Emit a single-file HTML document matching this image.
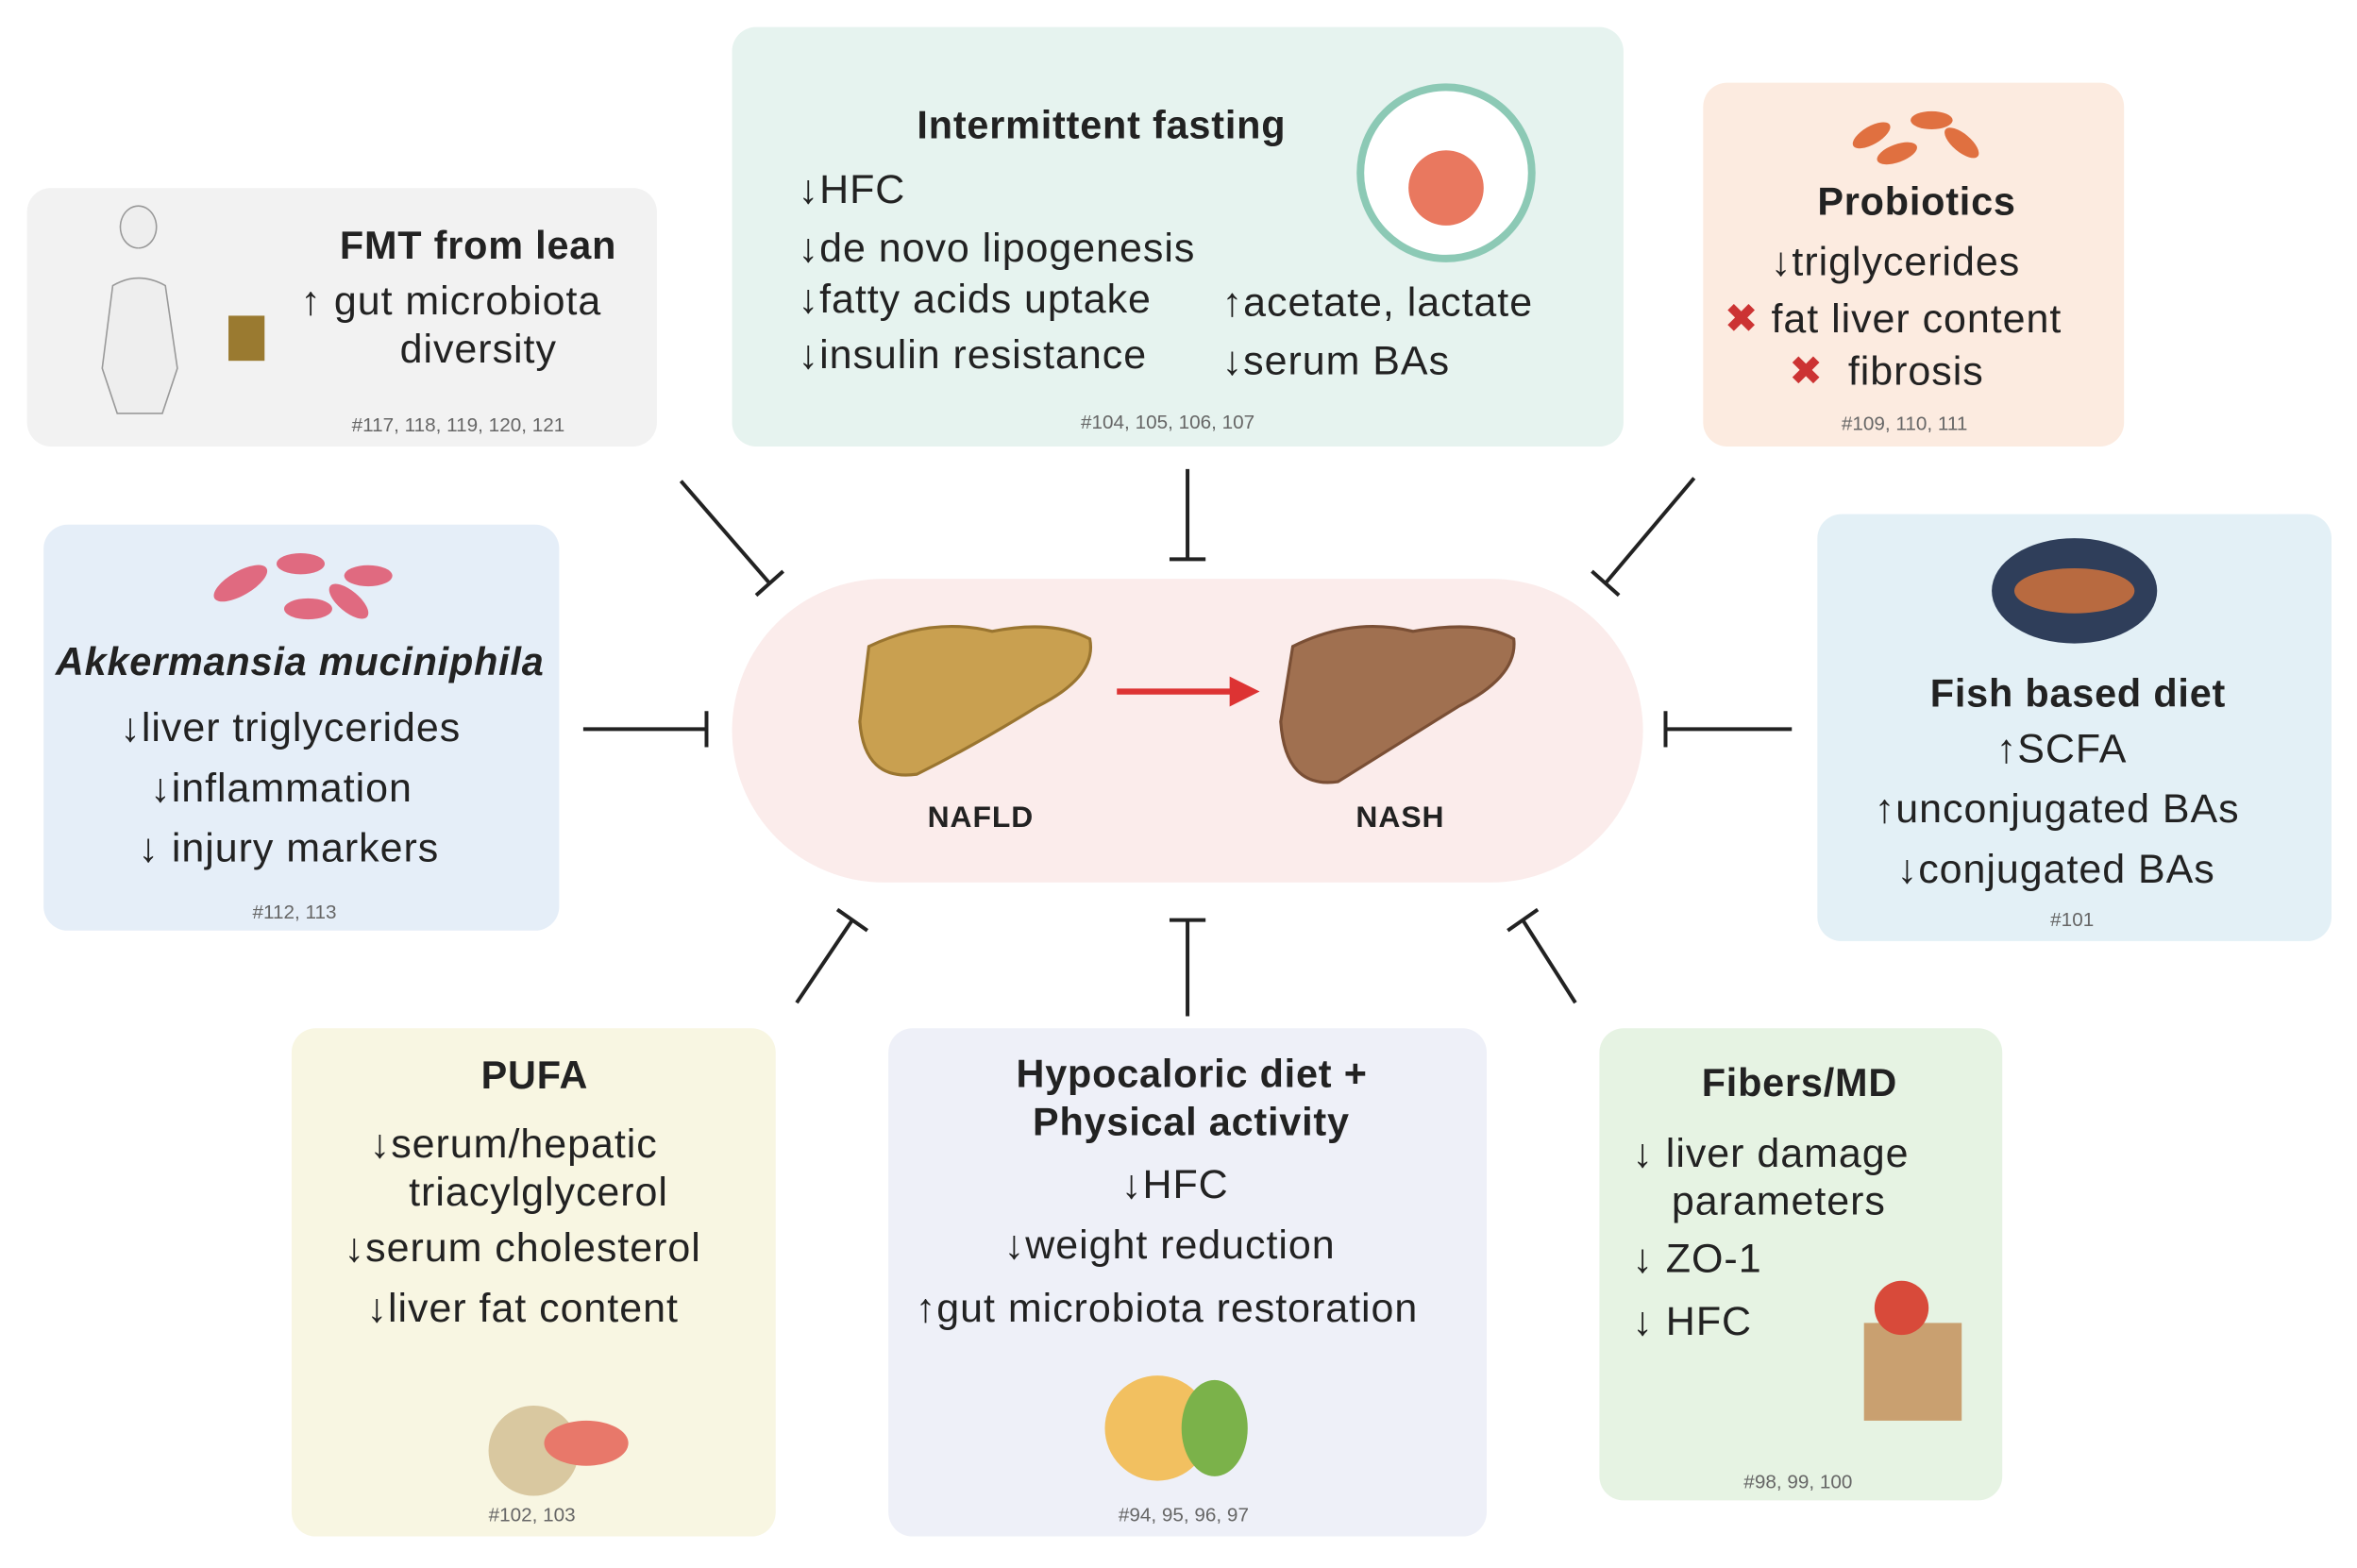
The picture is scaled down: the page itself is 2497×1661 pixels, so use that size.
<!DOCTYPE html>
<html><head><meta charset="utf-8"><style>
html,body{margin:0;padding:0;background:#fff;}
#wrap{width:2497px;height:1661px;overflow:hidden;position:relative;}
#s{position:absolute;left:0;top:0;width:1568px;height:1043px;transform:scale(1.5925);transform-origin:0 0;font-family:"Liberation Sans",sans-serif;color:#222;}
.b{position:absolute;border-radius:16px;}
.t{position:absolute;white-space:nowrap;font-size:27px;line-height:1;letter-spacing:0.6px;}
.h{font-weight:bold;font-size:26px;letter-spacing:0.5px;}
.r{font-size:13px;color:#666;letter-spacing:0;}
</style></head><body><div id="wrap"><div id="s">
<div class="b" style="left:18px;top:125px;width:419px;height:172px;background:#f2f2f2"></div>
<div class="b" style="left:487px;top:18px;width:593px;height:279px;background:#e6f3ef"></div>
<div class="b" style="left:1133px;top:55px;width:280px;height:242px;background:#fcebe0"></div>
<div class="b" style="left:29px;top:349px;width:343px;height:270px;background:#e5eef8"></div>
<div class="b" style="left:487px;top:385px;width:606px;height:202px;background:#fbeceb;border-radius:101px"></div>
<div class="b" style="left:1209px;top:342px;width:342px;height:284px;background:#e3f0f6"></div>
<div class="b" style="left:194px;top:684px;width:322px;height:338px;background:#f8f6e2"></div>
<div class="b" style="left:591px;top:684px;width:398px;height:338px;background:#eef0f8"></div>
<div class="b" style="left:1064px;top:684px;width:268px;height:314px;background:#e6f3e3"></div>

<svg width="1568" height="1043" style="position:absolute;left:0;top:0">
<g stroke="#222" stroke-width="2.5" fill="none">
<line x1="453" y1="320" x2="512" y2="388"/><line x1="503" y1="396" x2="521" y2="380"/>
<line x1="790" y1="312" x2="790" y2="372"/><line x1="778" y1="372" x2="802" y2="372"/>
<line x1="1127" y1="318" x2="1068" y2="388"/><line x1="1059" y1="380" x2="1077" y2="396"/>
<line x1="388" y1="485" x2="470" y2="485"/><line x1="470" y1="473" x2="470" y2="497"/>
<line x1="1192" y1="485" x2="1108" y2="485"/><line x1="1108" y1="473" x2="1108" y2="497"/>
<line x1="530" y1="667" x2="567" y2="612"/><line x1="557" y1="605" x2="577" y2="619"/>
<line x1="790" y1="676" x2="790" y2="612"/><line x1="778" y1="612" x2="802" y2="612"/>
<line x1="1048" y1="667" x2="1013" y2="612"/><line x1="1003" y1="619" x2="1023" y2="605"/>
</g>
<line x1="743" y1="460" x2="820" y2="460" stroke="#d33" stroke-width="4"/>
<polygon points="818,450 838,460 818,470" fill="#d33"/>
<path d="M578 430 Q620 410 660 420 Q700 412 725 425 Q730 450 690 470 Q650 495 610 515 Q575 520 572 480 Z" fill="#c9a050" stroke="#9a7530" stroke-width="2"/>
<path d="M860 430 Q900 410 940 420 Q985 412 1007 425 Q1010 450 970 470 Q930 495 890 520 Q855 525 852 480 Z" fill="#a07050" stroke="#7a4f35" stroke-width="2"/>
<circle cx="962" cy="115" r="57" fill="#fff" stroke="#8cc9b5" stroke-width="5"/>
<circle cx="962" cy="125" r="25" fill="#e9785f"/>
<ellipse cx="1380" cy="393" rx="55" ry="35" fill="#2f3e5a"/>
<ellipse cx="1380" cy="393" rx="40" ry="15" fill="#b86a40"/>
<g fill="#e07040"><ellipse cx="1245" cy="90" rx="14" ry="6" transform="rotate(-30 1245 90)"/><ellipse cx="1285" cy="80" rx="14" ry="6"/><ellipse cx="1305" cy="95" rx="14" ry="6" transform="rotate(40 1305 95)"/><ellipse cx="1262" cy="102" rx="14" ry="6" transform="rotate(-20 1262 102)"/></g>
<g fill="#e06a80"><ellipse cx="160" cy="388" rx="20" ry="8" transform="rotate(-30 160 388)"/><ellipse cx="200" cy="375" rx="16" ry="7"/><ellipse cx="245" cy="383" rx="16" ry="7"/><ellipse cx="205" cy="405" rx="16" ry="7"/><ellipse cx="232" cy="400" rx="16" ry="7" transform="rotate(40 232 400)"/></g>
<path d="M92 165 a12 14 0 1 1 0.1 0 M75 190 Q92 180 110 190 L118 245 L108 275 L78 275 L68 245 Z" fill="#eee" stroke="#999"/>
<rect x="152" y="210" width="24" height="30" fill="#9a7a30"/>
<circle cx="770" cy="950" r="35" fill="#f2c060"/><ellipse cx="808" cy="950" rx="22" ry="32" fill="#7bb24a"/>
<circle cx="355" cy="965" r="30" fill="#d9c8a0"/><ellipse cx="390" cy="960" rx="28" ry="15" fill="#e8786a"/>
<rect x="1240" y="880" width="65" height="65" fill="#c9a070"/><circle cx="1265" cy="870" r="18" fill="#d84a3a"/>
</svg>

<div class="t h" style="left:226px;top:150px">FMT from lean</div>
<div class="t" style="left:200px;top:187px">↑ gut microbiota</div>
<div class="t" style="left:266px;top:219px">diversity</div>
<div class="t r" style="left:234px;top:276px">#117, 118, 119, 120, 121</div>

<div class="t h" style="left:610px;top:70px">Intermittent fasting</div>
<div class="t" style="left:531px;top:113px">↓HFC</div>
<div class="t" style="left:531px;top:152px">↓de novo lipogenesis</div>
<div class="t" style="left:531px;top:186px">↓fatty acids uptake</div>
<div class="t" style="left:531px;top:223px">↓insulin resistance</div>
<div class="t" style="left:813px;top:188px">↑acetate, lactate</div>
<div class="t" style="left:813px;top:227px">↓serum BAs</div>
<div class="t r" style="left:719px;top:274px">#104, 105, 106, 107</div>

<div class="t h" style="left:1209px;top:121px">Probiotics</div>
<div class="t" style="left:1178px;top:161px">↓triglycerides</div>
<div class="t" style="left:1147px;top:199px"><span style="color:#c33">✖</span> fat liver content</div>
<div class="t" style="left:1190px;top:234px"><span style="color:#c33">✖</span>&nbsp; fibrosis</div>
<div class="t r" style="left:1225px;top:275px">#109, 110, 111</div>

<div class="t h" style="left:37px;top:427px;font-style:italic">Akkermansia muciniphila</div>
<div class="t" style="left:80px;top:471px">↓liver triglycerides</div>
<div class="t" style="left:100px;top:511px">↓inflammation</div>
<div class="t" style="left:92px;top:551px">↓ injury markers</div>
<div class="t r" style="left:168px;top:600px">#112, 113</div>

<div class="t" style="left:617px;top:534px;font-size:20px;font-weight:bold">NAFLD</div>
<div class="t" style="left:902px;top:534px;font-size:20px;font-weight:bold">NASH</div>

<div class="t h" style="left:1284px;top:448px">Fish based diet</div>
<div class="t" style="left:1328px;top:485px">↑SCFA</div>
<div class="t" style="left:1247px;top:525px">↑unconjugated BAs</div>
<div class="t" style="left:1262px;top:565px">↓conjugated BAs</div>
<div class="t r" style="left:1364px;top:605px">#101</div>

<div class="t h" style="left:320px;top:702px">PUFA</div>
<div class="t" style="left:246px;top:748px">↓serum/hepatic</div>
<div class="t" style="left:272px;top:780px">triacylglycerol</div>
<div class="t" style="left:229px;top:817px">↓serum cholesterol</div>
<div class="t" style="left:244px;top:857px">↓liver fat content</div>
<div class="t r" style="left:325px;top:1001px">#102, 103</div>

<div class="t h" style="left:676px;top:701px">Hypocaloric diet +</div>
<div class="t h" style="left:687px;top:733px">Physical activity</div>
<div class="t" style="left:746px;top:775px">↓HFC</div>
<div class="t" style="left:668px;top:815px">↓weight reduction</div>
<div class="t" style="left:609px;top:857px">↑gut microbiota restoration</div>
<div class="t r" style="left:744px;top:1001px">#94, 95, 96, 97</div>

<div class="t h" style="left:1132px;top:707px">Fibers/MD</div>
<div class="t" style="left:1086px;top:754px">↓ liver damage</div>
<div class="t" style="left:1112px;top:786px">parameters</div>
<div class="t" style="left:1086px;top:824px">↓ ZO-1</div>
<div class="t" style="left:1086px;top:866px">↓ HFC</div>
<div class="t r" style="left:1160px;top:979px">#98, 99, 100</div>
</div></div></body></html>
